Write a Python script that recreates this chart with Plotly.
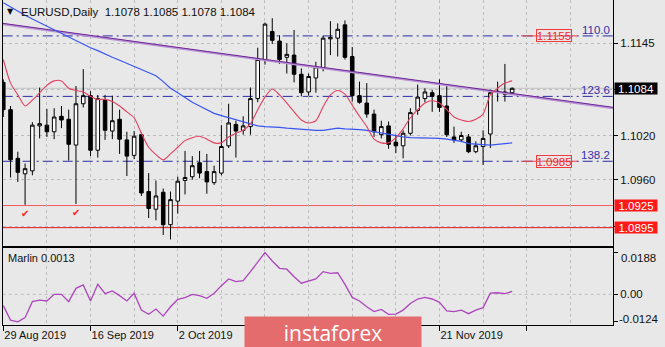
import plotly.graph_objects as go

# EURUSD daily bars, 29 Aug 2019 .. 5 Dec 2019 (bar index 0..70)
opens = [1.1092, 1.1055, 1.0989, 1.0968, 1.0972, 1.1033, 1.1034, 1.1025, 1.1046, 1.1042,
         1.1007, 1.1063, 1.1074, 1.1000, 1.1068, 1.1026, 1.1042, 1.1014, 1.0993, 1.1021,
         1.0944, 1.0920, 1.0943, 1.0899, 1.0931, 1.0959, 1.0964, 1.0983, 1.0971, 1.0956,
         1.0969, 1.1006, 1.1035, 1.1027, 1.1032, 1.1070, 1.1123, 1.1161, 1.1148, 1.1126,
         1.1129, 1.1103, 1.1079, 1.1098, 1.1111, 1.1151, 1.1152, 1.1170, 1.1127, 1.1074,
         1.1064, 1.1049, 1.1021, 1.1033, 1.1011, 1.1006, 1.1023, 1.1054, 1.1070, 1.1078,
         1.1074, 1.1060, 1.1018, 1.1014, 1.1018, 1.0998, 1.1005, 1.1022, 1.1080, 1.1079,
         1.1078]
highs = [1.1096, 1.1060, 1.0998, 1.0982, 1.1038, 1.1085, 1.1056, 1.1057, 1.1060, 1.1055,
         1.1087, 1.1110, 1.1080, 1.1075, 1.1075, 1.1074, 1.1055, 1.1025, 1.1026, 1.1024,
         1.0969, 1.0959, 1.0948, 1.0944, 1.0964, 1.0999, 1.0992, 1.0999, 1.0995, 1.0979,
         1.1034, 1.1063, 1.1040, 1.1046, 1.1085, 1.1139, 1.1173, 1.1179, 1.1156, 1.1145,
         1.1163, 1.1111, 1.1104, 1.1120, 1.1155, 1.1175, 1.1172, 1.1176, 1.1140, 1.1093,
         1.1091, 1.1055, 1.1040, 1.1039, 1.1021, 1.1027, 1.1057, 1.1089, 1.1084, 1.1082,
         1.1096, 1.1089, 1.1032, 1.1025, 1.1022, 1.1012, 1.1027, 1.1082, 1.1093, 1.1117,
         1.1085]
lows = [1.1045, 1.0963, 1.0957, 1.0926, 1.0966, 1.1016, 1.1018, 1.1015, 1.1030, 1.0986,
        1.0927, 1.1058, 1.0992, 1.0990, 1.1014, 1.1015, 1.0995, 1.0965, 1.0988, 1.0938,
        1.0908, 1.0905, 1.0885, 1.0879, 1.0914, 1.0940, 1.0960, 1.0962, 1.0941, 1.0953,
        1.0966, 1.1003, 1.0990, 1.1021, 1.1021, 1.1065, 1.1116, 1.1144, 1.1117, 1.1104,
        1.1092, 1.1073, 1.1074, 1.1078, 1.1107, 1.1129, 1.1127, 1.1123, 1.1066, 1.1063,
        1.1044, 1.1018, 1.1016, 1.1002, 1.0996, 1.0989, 1.1020, 1.1048, 1.1065, 1.1052,
        1.1052, 1.1018, 1.1010, 1.1011, 1.0996, 1.0996, 1.0980, 1.1003, 1.1066, 1.1066,
        1.1078]
closes = [1.1055, 1.0987, 1.0970, 1.0975, 1.1034, 1.1036, 1.1025, 1.1045, 1.1041, 1.1008,
          1.1063, 1.1074, 1.1000, 1.1070, 1.1027, 1.1040, 1.1015, 1.0992, 1.1019, 1.0942,
          1.0921, 1.0938, 1.0899, 1.0933, 1.0958, 1.0963, 1.0979, 1.0969, 1.0957, 1.0971,
          1.1005, 1.1037, 1.1026, 1.1033, 1.1070, 1.1123, 1.1171, 1.1149, 1.1123, 1.1130,
          1.1103, 1.1078, 1.1100, 1.1113, 1.1152, 1.1153, 1.1164, 1.1126, 1.1074, 1.1065,
          1.1049, 1.1025, 1.1032, 1.1008, 1.1006, 1.1023, 1.1051, 1.1072, 1.1079, 1.1073,
          1.1058, 1.1021, 1.1014, 1.1020, 1.0998, 1.1006, 1.1016, 1.1078, 1.1079, 1.1076,
          1.1084]

# fast (red) and slow (blue) moving averages
ma_fast = [1.1123, 1.1091, 1.1075, 1.1060, 1.1068, 1.1078, 1.1088, 1.1094, 1.1094, 1.1084,
           1.1081, 1.1079, 1.1073, 1.1069, 1.1069, 1.1066, 1.1060, 1.1052, 1.1044, 1.1023,
           1.1004, 1.0994, 1.0987, 1.0995, 1.1004, 1.1013, 1.1017, 1.1019, 1.1015, 1.1010,
           1.1010, 1.1018, 1.1023, 1.1027, 1.1036, 1.1055, 1.1072, 1.1083, 1.1075, 1.1064,
           1.1052, 1.1041, 1.1037, 1.1040, 1.1059, 1.1075, 1.1081, 1.1076, 1.1061, 1.1046,
           1.1032, 1.1015, 1.1010, 1.1010, 1.1017, 1.1029, 1.1044, 1.1055, 1.1064, 1.1067,
           1.1064, 1.1055, 1.1045, 1.1041, 1.1039, 1.1042, 1.1049, 1.1075, 1.1084, 1.1091,
           1.1094]
ma_slow = [1.1200, 1.1194, 1.1189, 1.1183, 1.1178, 1.1173, 1.1168, 1.1164, 1.1159, 1.1154,
           1.1149, 1.1144, 1.1139, 1.1135, 1.1130, 1.1126, 1.1122, 1.1118, 1.1114, 1.1109,
           1.1106, 1.1101, 1.1093, 1.1084, 1.1078, 1.1071, 1.1065, 1.1060, 1.1055, 1.1050,
           1.1047, 1.1044, 1.1041, 1.1038, 1.1035, 1.1033, 1.1032, 1.1032, 1.1031, 1.1030,
           1.1029, 1.1028, 1.1027, 1.1027, 1.1027, 1.1029, 1.1030, 1.1029, 1.1029, 1.1028,
           1.1027, 1.1025, 1.1023, 1.1021, 1.1019, 1.1018, 1.1017, 1.1017, 1.1017, 1.1016,
           1.1016, 1.1015, 1.1014, 1.1012, 1.1009, 1.1008, 1.1007, 1.1007, 1.1008, 1.1009,
           1.1010]

# Marlin oscillator
marlin = [-0.0051, -0.0116, -0.0124, -0.0105, -0.0033, -0.0026, -0.0030, 0.0000, 0.0000, -0.0033,
          0.0027, 0.0042, -0.0030, 0.0045, 0.0003, 0.0015, -0.0006, -0.0030, 0.0005, -0.0071,
          -0.0090, -0.0066, -0.0098, -0.0056, -0.0023, -0.0015, 0.0000, -0.0006, -0.0018, 0.0005,
          0.0039, 0.0069, 0.0057, 0.0061, 0.0102, 0.0147, 0.0188, 0.0150, 0.0117, 0.0113,
          0.0079, 0.0050, 0.0060, 0.0069, 0.0102, 0.0094, 0.0097, 0.0045, -0.0014, -0.0030,
          -0.0056, -0.0078, -0.0068, -0.0090, -0.0089, -0.0071, -0.0041, -0.0021, -0.0014, -0.0021,
          -0.0036, -0.0075, -0.0078, -0.0071, -0.0087, -0.0071, -0.0060, 0.0005, 0.0007, 0.0003,
          0.0013]
marlin_max, marlin_min = 0.0188, -0.0124

# date axis: labels under the watermark are left blank
date_ticks = [0, 12, 24, 36, 48, 60, 72]
date_labels = ["29 Aug 2019", "16 Sep 2019", "2 Oct 2019", "", "", "21 Nov 2019", ""]
price_ticks = [1.1145, 1.1083, 1.1020, 1.0960, 1.0897]
price_labels = ["1.1145", "", "1.1020", "1.0960", ""]

fib_names = ["110.0", "123.6", "138.2"]
fib_prices = [1.1155, 1.1073, 1.0985]
target_prices = [1.1155, 1.0985]
support_prices = [1.0925, 1.0895]
support_colors = ["#f35b5b", "#e41616"]
trend_x = [0, 70]
trend_y = [1.1172, 1.1077]
bid = 1.1084
check_bars = [3, 10]
header_ohlc = [1.1078, 1.1085, 1.1078, 1.1084]

# ---- layout geometry (pixels) ----
W, H = 665, 347
PX_L, PX_R = 2.7, 613.0
MAIN_T, MAIN_B = 0.0, 245.5
SUB_T, SUB_B = 248.3, 325.0
X_RANGE = [-0.08, 83.87]
Y_RANGE = [1.08708, 1.12037]
Y2_RANGE = [-0.0138, 0.0207]

def px(xp):
    return xp / W

def py(yp):
    return 1 - yp / H

FONT = "Liberation Sans"
BG = "#e8e8e8"
GRID = "#bdbdbd"
bars = list(range(len(opens)))

fig = go.Figure()

fig.add_trace(go.Candlestick(
    x=bars, open=opens, high=highs, low=lows, close=closes,
    increasing=dict(line=dict(color="black", width=1), fillcolor="white"),
    decreasing=dict(line=dict(color="black", width=1), fillcolor="black"),
    whiskerwidth=0, showlegend=False, hoverinfo="skip",
    xaxis="x", yaxis="y"))

# trend line extended to both edges of the chart
slope = (trend_y[1] - trend_y[0]) / (trend_x[1] - trend_x[0])
tx = [X_RANGE[0], X_RANGE[1]]
ty = [trend_y[0] + slope * (v - trend_x[0]) for v in tx]
fig.add_trace(go.Scatter(x=tx, y=[v - 0.00012 for v in ty], mode="lines",
                         line=dict(color="#b892d6", width=2), hoverinfo="skip",
                         showlegend=False))
fig.add_trace(go.Scatter(x=tx, y=ty, mode="lines",
                         line=dict(color="#6c2592", width=1), hoverinfo="skip",
                         showlegend=False))

fig.add_trace(go.Scatter(x=bars, y=ma_slow, mode="lines",
                         line=dict(color="#3a55f0", width=1.2), hoverinfo="skip",
                         showlegend=False))
fig.add_trace(go.Scatter(x=bars, y=ma_fast, mode="lines",
                         line=dict(color="#e2405f", width=1.1, shape="spline", smoothing=0.7),
                         hoverinfo="skip", showlegend=False))

fig.add_trace(go.Scatter(x=bars, y=marlin, mode="lines",
                         line=dict(color="#ad45bd", width=1.3), hoverinfo="skip",
                         showlegend=False, xaxis="x2", yaxis="y2"))

shapes = []
# bid line
shapes.append(dict(type="line", xref="paper", yref="y", x0=px(PX_L), x1=px(PX_R),
                   y0=bid, y1=bid, line=dict(color="#c2c2c2", width=1), layer="below"))
# fibonacci levels
for p in fib_prices:
    shapes.append(dict(type="line", xref="paper", yref="y", x0=px(PX_L), x1=px(PX_R),
                       y0=p, y1=p, line=dict(color="#2b2ba6", width=1, dash="10px,4px,2px,4px"),
                       layer="below"))
# support lines
for p, c in zip(support_prices, support_colors):
    shapes.append(dict(type="line", xref="paper", yref="y", x0=px(PX_L), x1=px(PX_R),
                       y0=p, y1=p, line=dict(color=c, width=1), layer="below"))
# short red leader lines to the target labels
for p in target_prices:
    shapes.append(dict(type="line", xref="paper", yref="y", x0=px(521), x1=px(577),
                       y0=p, y1=p, line=dict(color="#f04040", width=1), layer="below"))

annotations = []
# header
annotations.append(dict(xref="paper", yref="paper", x=px(5), y=py(11.5), xanchor="left",
                        yanchor="middle", text="▼", showarrow=False,
                        font=dict(family="DejaVu Sans", size=8, color="#111")))
annotations.append(dict(xref="paper", yref="paper", x=px(19), y=py(11.5), xanchor="left",
                        yanchor="middle", showarrow=False,
                        text="EURUSD,Daily  " + " ".join(f"{v:.4f}" for v in header_ohlc),
                        font=dict(family=FONT, size=11.5, color="#111")))
# fibonacci level names
for name, p in zip(fib_names, fib_prices):
    annotations.append(dict(xref="paper", yref="y", x=px(612), y=p, xanchor="right",
                            yanchor="bottom", text=name, showarrow=False, yshift=-2,
                            font=dict(family=FONT, size=11.5, color="#3232a8")))
# boxed target prices
for p in target_prices:
    annotations.append(dict(xref="paper", yref="y", x=px(553.5), y=p, xanchor="center",
                            yanchor="middle", text=f"{p:.4f}", showarrow=False,
                            width=34, height=11, bordercolor="#f03c3c", borderwidth=1,
                            borderpad=0, bgcolor="rgba(240,225,225,0.35)",
                            font=dict(family=FONT, size=11.5, color="#f02828")))
# price tags on the right axis
annotations.append(dict(xref="paper", yref="y", x=px(614), y=bid, xanchor="left",
                        yanchor="middle", text=f"{bid:.4f}", showarrow=False,
                        width=42, height=11, bgcolor="#000000", borderpad=0,
                        font=dict(family=FONT, size=11.5, color="white")))
for p in support_prices:
    annotations.append(dict(xref="paper", yref="y", x=px(614), y=p, xanchor="left",
                            yanchor="middle", text=f"{p:.4f}", showarrow=False,
                            width=42, height=11, bgcolor="#ff1a1a", borderpad=0,
                            font=dict(family=FONT, size=11.5, color="white")))
# check marks under the two lows
for b in check_bars:
    annotations.append(dict(xref="x", yref="y", x=b, y=lows[b], xanchor="center",
                            yanchor="top", text="✔", showarrow=False, yshift=-1,
                            font=dict(family="DejaVu Sans", size=10, color="#ff2020")))
# oscillator captions
annotations.append(dict(xref="paper", yref="paper", x=px(6), y=py(258), xanchor="left",
                        yanchor="middle", showarrow=False,
                        text=f"Marlin {marlin[-1]:.4f}",
                        font=dict(family=FONT, size=11, color="#111")))
annotations.append(dict(xref="paper", yref="paper", x=px(619), y=py(258), xanchor="left",
                        yanchor="middle", showarrow=False, text=f"{marlin_max:.4f}",
                        font=dict(family=FONT, size=11.5, color="#111")))
annotations.append(dict(xref="paper", yref="paper", x=px(617), y=py(318.5), xanchor="left",
                        yanchor="middle", showarrow=False, text=f"{marlin_min:.4f}",
                        font=dict(family=FONT, size=11.5, color="#111")))
# watermark
annotations.append(dict(xref="paper", yref="paper", x=px(333), y=py(316), xanchor="center",
                        yanchor="top", showarrow=False, text="instaforex",
                        width=176, height=31, bgcolor="#e46c6c", borderpad=0,
                        font=dict(family="Open Sans", size=21, color="white")))

axis_common = dict(showline=True, mirror=True, linecolor="#000", linewidth=1,
                   zeroline=False, automargin=False, fixedrange=True)

fig.update_layout(
    width=W, height=H,
    margin=dict(l=0, r=0, t=0, b=0, pad=0),
    paper_bgcolor=BG, plot_bgcolor=BG,
    showlegend=False,
    font=dict(family=FONT, size=11.5, color="#111"),
    xaxis=dict(domain=[px(PX_L), px(PX_R)], range=X_RANGE, anchor="y",
               tickvals=list(range(0, 85, 6)), showticklabels=False, ticks="",
               showgrid=True, gridcolor=GRID, griddash="dot", gridwidth=1,
               rangeslider=dict(visible=False), **axis_common),
    yaxis=dict(domain=[py(MAIN_B), py(MAIN_T)], range=Y_RANGE, anchor="x", side="right",
               tickvals=price_ticks, ticktext=price_labels, ticks="outside", ticklen=4,
               tickcolor="#000", showgrid=True, gridcolor=GRID, griddash="dot",
               tickfont=dict(family=FONT, size=11.5, color="#111"), **axis_common),
    xaxis2=dict(domain=[px(PX_L), px(PX_R)], range=X_RANGE, anchor="y2", matches="x",
                tickvals=date_ticks, ticktext=date_labels, ticks="outside", ticklen=5,
                tickcolor="#000", ticklabelposition="outside right",
                tickfont=dict(family=FONT, size=11, color="#111"),
                showgrid=True, gridcolor=GRID, griddash="dot",
                minor=dict(tickvals=list(range(6, 85, 12)), showgrid=True, gridcolor=GRID,
                           griddash="dot", ticks=""),
                **axis_common),
    yaxis2=dict(domain=[py(SUB_B), py(SUB_T)], range=Y2_RANGE, anchor="x2", side="right",
                tickvals=[marlin_min, 0.0, marlin_max], ticktext=["", "0.00", ""],
                ticks="outside", ticklen=4, tickcolor="#000",
                showgrid=False, tickfont=dict(family=FONT, size=11.5, color="#111"),
                **axis_common),
    shapes=shapes + [dict(type="line", xref="paper", yref="y2", x0=px(PX_L), x1=px(PX_R),
                          y0=0, y1=0, line=dict(color=GRID, width=1, dash="dot"),
                          layer="below")],
    annotations=annotations,
)

fig.write_html("out.html")
